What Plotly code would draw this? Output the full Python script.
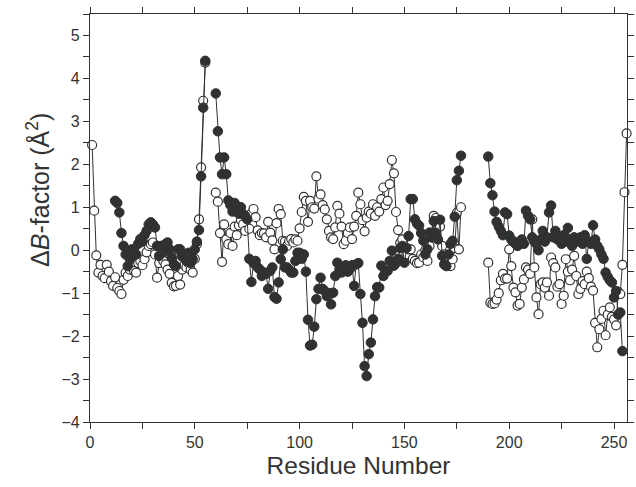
import plotly.graph_objects as go

# ---- data ----
open_seg1_x = list(range(1, 56))
open_seg1_y = [2.45, 0.92, -0.12, -0.52, -0.34, -0.60, -0.65, -0.34, -0.50, -0.72,
               -0.83, -0.63, -0.88, -0.95, -1.02, -0.69, -0.52, -0.60, -0.45, -0.40,
               -0.48, -0.52, -0.30, -0.25, -0.35, -0.21, -0.05, 0.10, 0.14, 0.18,
               -0.10, -0.64, -0.30, -0.17, -0.25, -0.33, -0.45, -0.55, -0.76, -0.84,
               -0.83, -0.60, -0.80, -0.45, -0.35, -0.40, -0.30, -0.45, -0.52, -0.20,
               0.14, 0.72, 1.93, 3.48, 4.37]
open_seg2_x = list(range(60, 178))
open_seg2_y = [1.34, 1.13, 0.40, -0.27, 0.60, 0.25, 0.14, 0.40, 0.10, 0.55,
               0.35, 0.58, 0.70, 0.60, 0.45, 0.75, 0.50, 0.85, 0.96, 0.77,
               0.46, 0.35, 0.40, 0.39, 0.30, 0.66, 0.41, 0.23, 0.02, 0.63,
               0.96, 0.84, 0.22, 0.20, 0.10, 0.22, 0.26, 0.18, 0.25, 0.22,
               0.51, 0.89, 1.24, 1.15, 0.66, 1.15, 1.00, 0.97, 1.72, 1.20,
               1.30, 1.05, 0.95, 0.72, 0.45, 0.30, 0.26, 0.53, 1.03, 0.85,
               0.55, 0.14, 0.22, 0.40, 0.53, 0.26, 0.55, 0.80, 1.34, 1.07,
               0.70, 0.44, 0.76, 0.90, 0.85, 1.07, 0.80, 1.00, 0.90, 1.19,
               1.46, 1.05, 1.15, 1.54, 2.10, 1.79, 0.89, 0.47, 0.17, 0.25,
               0.06, -0.10, 0.02, 0.02, -0.20, -0.25, -0.30, -0.29, -0.10, -0.17,
               0.00, -0.25, 0.10, 0.35, 0.80, 0.75, 0.53, 0.55, 0.10, -0.10,
               -0.30, -0.20, -0.37, -0.21, 0.05, 0.87, 0.02, 1.00]
open_seg3_x = list(range(190, 257))
open_seg3_y = [-0.29, -1.22, -1.25, -1.24, -1.15, -1.00, -0.70, -0.55, -0.66, -0.66,
               0.02, -0.37, -0.87, -0.98, -1.29, -1.25, -0.87, -0.68, -0.40, -0.45,
               -0.55, 0.72, -0.40, -1.10, -1.49, -0.79, -0.75, -0.87, -0.75, -1.06,
               -0.17, -0.30, -0.40, -0.85, -0.79, -1.25, -1.06, -0.21, -0.50, -0.70,
               -0.45, -0.13, -0.60, -1.02, -0.90, -0.72, -0.79, -0.50, -0.65, -0.85,
               -0.94, -1.69, -2.26, -1.84, -1.60, -1.41, -1.98, -1.50, -1.33, -1.55,
               -1.61, -1.75, -0.97, -1.02, -0.34, 1.35, 2.72]

filled_seg1_x = list(range(12, 56))
filled_seg1_y = [1.15, 1.10, 0.88, 0.40, 0.10, -0.10, -0.37, -0.20, 0.02, 0.00,
                 -0.10, 0.15, 0.26, 0.20, 0.35, 0.45, 0.60, 0.65, 0.60, 0.53,
                 0.10, -0.13, 0.10, -0.05, 0.14, 0.18, 0.02, -0.17, -0.33, -0.37,
                 0.02, 0.02, -0.15, -0.10, -0.25, -0.06, -0.30, -0.21, 0.02, 0.20,
                 0.47, 1.72, 3.32, 4.41]
filled_seg2_x = list(range(60, 178))
filled_seg2_y = [3.65, 2.77, 2.16, 1.77, 2.16, 1.77, 1.16, 1.05, 0.90, 1.10,
                 0.95, 0.85, 1.00, 0.84, 0.80, 0.72, -0.20, -0.74, -0.30, -0.25,
                 -0.40, -0.45, -0.60, -0.52, -0.55, -0.90, -0.48, -0.40, -1.09, -1.13,
                 -0.75, -0.21, 0.02, -0.40, -0.40, -0.45, -0.52, -0.52, -0.25, -0.06,
                 -0.06, -0.20, -0.10, -0.50, -1.62, -2.22, -2.20, -1.78, -1.14, -0.90,
                 -0.64, -0.90, -0.95, -1.07, -1.00, -1.26, -0.99, -0.60, -0.29, -0.45,
                 -0.52, -0.40, -0.35, -0.50, -0.44, -0.35, -0.83, -0.33, -0.30, -1.02,
                 -1.69, -2.70, -2.93, -2.42, -2.15, -1.61, -1.07, -0.86, -0.87, -0.36,
                 -0.60, -0.50, -0.48, -0.25, -0.01, -0.36, -0.30, -0.20, 0.05, 0.10,
                 -0.29, 0.05, 0.33, 1.19, 1.19, 0.72, 0.62, 0.57, 0.40, 0.22,
                 -0.10, 0.02, 0.41, 0.30, 0.68, 0.40, 0.25, 0.71, -0.13, -0.33,
                 -0.37, -0.10, 0.15, 0.22, 0.78, 1.63, 1.85, 2.20]
filled_seg3_x = list(range(190, 255))
filled_seg3_y = [2.18, 1.56, 1.28, 0.90, 0.66, 0.55, 0.45, 0.35, 0.88, 0.84,
                 0.34, 0.25, 0.20, 0.15, 0.10, 0.20, 0.25, 0.15, 0.92, 0.80,
                 0.72, 0.30, 0.20, 0.15, 0.00, 0.25, 0.45, 0.20, 0.30, 0.88,
                 1.04, 0.30, 0.45, 0.25, 0.30, 0.15, 0.35, 0.20, 0.52, 0.25,
                 0.10, 0.30, 0.20, 0.25, 0.30, 0.15, 0.35, -0.20, 0.20, 0.15,
                 0.58, 0.25, 0.10, 0.02, -0.10, -0.20, -0.52, -0.62, -0.70, -0.75,
                 -1.10, -0.95, -1.50, -1.45, -2.35]

x_tick_vals = [0, 50, 100, 150, 200, 250]
y_tick_vals = [-4, -3, -2, -1, 0, 1, 2, 3, 4, 5]


def join(*segs):
    xs, ys = [], []
    for i, (sx, sy) in enumerate(segs):
        if i:
            xs.append(None)
            ys.append(None)
        xs += sx
        ys += sy
    return xs, ys


ox, oy = join((open_seg1_x, open_seg1_y), (open_seg2_x, open_seg2_y), (open_seg3_x, open_seg3_y))
fx, fy = join((filled_seg1_x, filled_seg1_y), (filled_seg2_x, filled_seg2_y), (filled_seg3_x, filled_seg3_y))

DARK = "#2f3133"
FONT = "Liberation Sans, Arial, Helvetica, sans-serif"

fig = go.Figure()
fig.add_trace(go.Scatter(
    x=ox, y=oy, mode="lines+markers", connectgaps=False, cliponaxis=False,
    line=dict(color=DARK, width=1),
    marker=dict(symbol="circle", size=9, color="white", line=dict(color=DARK, width=1.2)),
    showlegend=False))
fig.add_trace(go.Scatter(
    x=fx, y=fy, mode="lines+markers", connectgaps=False, cliponaxis=False,
    line=dict(color=DARK, width=1),
    marker=dict(symbol="circle", size=9.5, color=DARK, line=dict(color=DARK, width=1)),
    showlegend=False))

axis_common = dict(
    showline=True, linecolor=DARK, linewidth=1.3, mirror="allticks",
    ticks="outside", ticklen=6, tickwidth=1.2, tickcolor=DARK,
    showgrid=False, zeroline=False,
    tickfont=dict(family=FONT, size=16, color="#333"),
)

fig.update_layout(
    width=636, height=487,
    margin=dict(l=90, r=2, t=14, b=65),
    paper_bgcolor="white", plot_bgcolor="white",
    font=dict(family=FONT, color="#333"),
    xaxis=dict(range=[0, 256.2], tickvals=x_tick_vals,
               minor=dict(dtick=25, tick0=0, ticks="outside", ticklen=6, tickcolor=DARK, tickwidth=1.2),
               title=dict(text="Residue Number", font=dict(family=FONT, size=24.5, color="#333"), standoff=6),
               **axis_common),
    yaxis=dict(range=[-4, 5.5], tickvals=y_tick_vals,
               minor=dict(dtick=0.5, tick0=0, ticks="outside", ticklen=6, tickcolor=DARK, tickwidth=1.2),
               **axis_common),
    annotations=[dict(
        text="Δ<i>B</i>-factor (Å<sup>2</sup>)", textangle=-90,
        xref="paper", yref="paper", x=-0.096, y=0.57,
        xanchor="center", yanchor="middle", showarrow=False,
        font=dict(family=FONT, size=25, color="#333"),
    )],
)

fig.write_html(
    "out.html",
    config={"displayModeBar": False},
    post_script="document.body.style.margin='0';document.body.style.overflow='hidden';",
)
